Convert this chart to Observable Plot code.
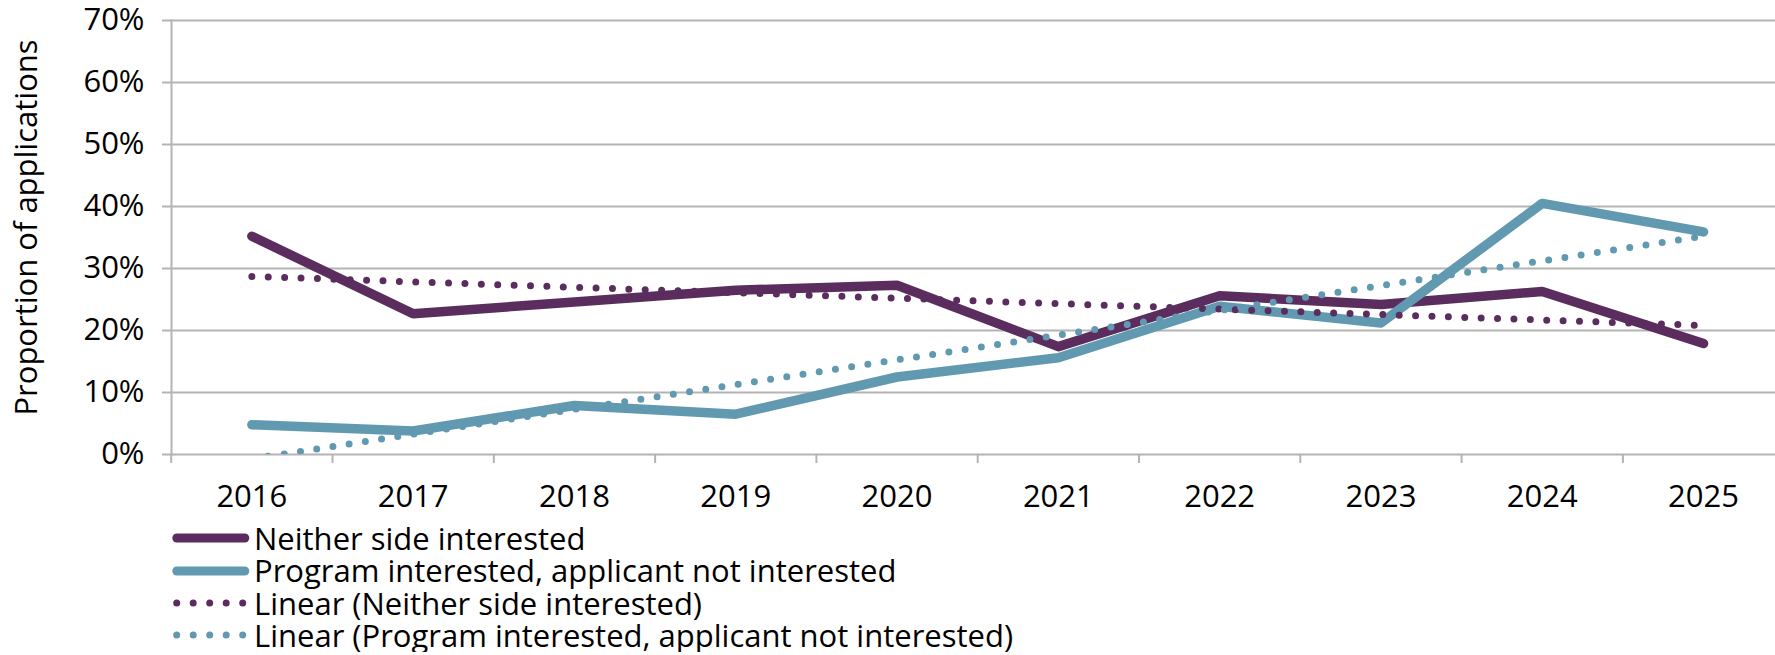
<!DOCTYPE html>
<html><head><meta charset="utf-8">
<script src="https://cdn.jsdelivr.net/npm/d3@7"></script>
<script src="https://cdn.jsdelivr.net/npm/@observablehq/plot@0.6"></script>
<style>
body{margin:0;background:#fff;font-family:"Open Sans",sans-serif;}
#chart svg{display:block}
#legend{margin-left:168px;font-size:31px;color:#000;font-family:"Open Sans",sans-serif;}
.row{display:flex;align-items:center;height:32.4px;line-height:32.4px;white-space:nowrap;}
.row svg{display:block;flex:none;}
</style></head><body>
<div id="chart"></div>
<div id="legend"></div>
<script>
const years = [2016, 2017, 2018, 2019, 2020, 2021, 2022, 2023, 2024, 2025];
const neither = [35.2, 22.7, 24.6, 26.5, 27.3, 17.4, 25.6, 24.2, 26.3, 17.9];
const program = [4.8, 3.8, 7.9, 6.5, 12.5, 15.6, 23.9, 21.2, 40.5, 35.9];
const seriesNames = ["Neither side interested", "Program interested, applicant not interested"];
const trendNames = ["Linear (Neither side interested)", "Linear (Program interested, applicant not interested)"];
const colors = ["#5b2d5e", "#6199b0"];
const yTicks = [0, 10, 20, 30, 40, 50, 60, 70];
const yTitle = "Proportion of applications";

const rows = [];
years.forEach((yr, i) => {
  rows.push({year: yr, value: neither[i], series: seriesNames[0]});
  rows.push({year: yr, value: program[i], series: seriesNames[1]});
});
const bounds = [...years.map(y => y - 0.5), years[years.length - 1] + 0.5];
const gridColor = "#b4b4b4";

const plot = Plot.plot({
  width: 1775, height: 522,
  marginLeft: 171, marginRight: 0, marginTop: 20, marginBottom: 68,
  style: {fontFamily: '"Open Sans",sans-serif', fontSize: "31px", color: "#000", background: "#fff", overflow: "visible"},
  x: {type: "linear", domain: [bounds[0], bounds[bounds.length - 1]], range: [170.7, 1783.7]},
  y: {domain: [0, 70]},
  color: {domain: seriesNames, range: colors},
  marks: [
    Plot.gridY(yTicks, {stroke: gridColor, strokeOpacity: 1, strokeWidth: 2}),
    Plot.axisY({ticks: yTicks, tickSize: 9, tickPadding: 18, tickFormat: d => d + "%", stroke: gridColor, strokeOpacity: 1, strokeWidth: 2, label: null, fontSize: 31}),
    Plot.frame({anchor: "left", stroke: gridColor, strokeWidth: 2}),
    Plot.axisX({ticks: bounds, tickSize: 9, tickFormat: () => "", stroke: gridColor, strokeOpacity: 1, strokeWidth: 2, label: null}),
    Plot.axisX({ticks: years, tickSize: 0, tickPadding: 30, tickFormat: d => String(d), label: null, fontSize: 31}),
    Plot.text([yTitle], {frameAnchor: "left", text: d => d, rotate: -90, textAnchor: "middle", dx: -144, dy: -10, fontSize: 31, fill: "#000"}),
    Plot.line(rows, {x: "year", y: "value", z: "series", stroke: "series", strokeWidth: 9.5, strokeLinecap: "round", strokeLinejoin: "round"}),
    Plot.linearRegressionY(rows, {x: "year", y: "value", z: "series", stroke: "series", ci: 0, strokeWidth: 7, strokeDasharray: "0 16.4", strokeLinecap: "round", clip: true})
  ]
});
document.getElementById("chart").appendChild(plot);

// Legend below the chart
const legend = document.getElementById("legend");
const items = [
  {name: seriesNames[0], color: colors[0], dotted: false},
  {name: seriesNames[1], color: colors[1], dotted: false},
  {name: trendNames[0], color: colors[0], dotted: true},
  {name: trendNames[1], color: colors[1], dotted: true}
];
const ns = "http://www.w3.org/2000/svg";
items.forEach(it => {
  const row = document.createElement("div");
  row.className = "row";
  const svg = document.createElementNS(ns, "svg");
  svg.setAttribute("width", 86);
  svg.setAttribute("height", 32);
  const ln = document.createElementNS(ns, "line");
  ln.setAttribute("y1", 16); ln.setAttribute("y2", 16);
  ln.setAttribute("stroke", it.color);
  ln.setAttribute("stroke-linecap", "round");
  if (it.dotted) {
    ln.setAttribute("x1", 8.7); ln.setAttribute("x2", 75);
    ln.setAttribute("stroke-width", 7);
    ln.setAttribute("stroke-dasharray", "0 16.5");
  } else {
    ln.setAttribute("x1", 8.8); ln.setAttribute("x2", 76.8);
    ln.setAttribute("stroke-width", 9);
  }
  svg.appendChild(ln);
  row.appendChild(svg);
  const span = document.createElement("span");
  span.textContent = it.name;
  row.appendChild(span);
  legend.appendChild(row);
});
</script>
</body></html>
